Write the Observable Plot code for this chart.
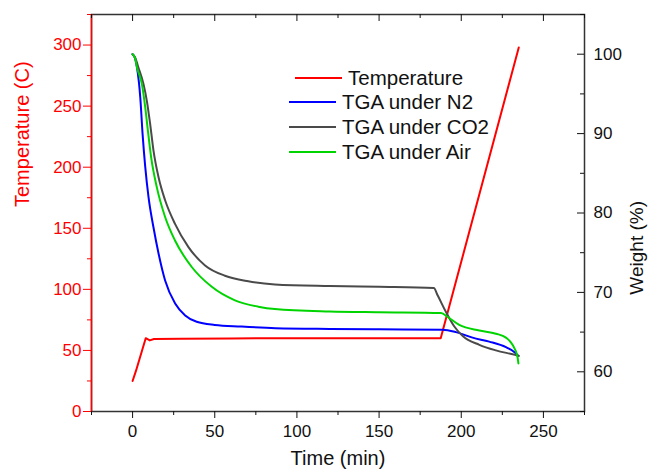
<!DOCTYPE html>
<html>
<head>
<meta charset="utf-8">
<script src="https://cdn.jsdelivr.net/npm/d3@7"></script>
<script src="https://cdn.jsdelivr.net/npm/@observablehq/plot@0.6"></script>
<style>
  html, body { margin: 0; padding: 0; background: #fff; }
  #wrap { position: relative; width: 648px; height: 471px; font-family: "Liberation Sans", Arial, sans-serif; }
  .legtext { position: absolute; font-size: 20.5px; color: #111; white-space: nowrap; line-height: 1; }
  .legline { position: absolute; height: 0; border-top-width: 2.5px; border-top-style: solid; }
</style>
</head>
<body>
<div id="wrap"></div>
<script>
// ---- data ----
const X_DOMAIN = [-25, 275];
const T_DOMAIN = [0, 325];
const W_DOMAIN = [55, 105];

const xTicks = [0, 50, 100, 150, 200, 250];
const xMinor = [-25, 25, 75, 125, 175, 225, 275];
const tTicks = [0, 50, 100, 150, 200, 250, 300];
const tMinor = [25, 75, 125, 175, 225, 275, 325];
const wTicks = [60, 70, 80, 90, 100];
const wMinor = [55, 65, 75, 85, 95, 105];

const tempTime = [0, 2, 4, 6, 8, 10.5, 13, 30, 60, 100, 150, 187.5, 235];
const tempVal  = [25, 33, 42, 51, 60, 58.2, 59.3, 59.6, 59.8, 60, 60, 60, 298];

const n2Time = [0, 1.5, 2.7, 4.7, 6.1, 7.7, 9.7, 12.7, 15.8, 19.8, 25.9, 32, 39, 50, 66, 87, 120, 150, 188.7, 196.8, 206.9, 217, 227.2, 232.2, 234.8];
const n2W    = [100, 99.5, 98.3, 94.5, 89.9, 85.8, 82.0, 78.2, 74.9, 71.5, 68.6, 67.1, 66.3, 65.9, 65.7, 65.5, 65.4, 65.35, 65.3, 65.0, 64.3, 63.8, 63.1, 62.5, 62.0];

const co2Time = [0, 1.5, 3.6, 6.7, 8.7, 10.7, 12.7, 15.8, 19.8, 25.9, 34, 44.1, 56.2, 70.4, 86.6, 120, 150, 183.3, 185.7, 190.8, 195.8, 200.9, 211, 221.1, 233.3, 235];
const co2W    = [100, 99.6, 98.3, 96.2, 94.1, 91.2, 87.9, 84.5, 81.6, 78.6, 75.7, 73.4, 72.1, 71.4, 71.0, 70.8, 70.7, 70.55, 69.6, 67.5, 65.7, 64.5, 63.4, 62.7, 62.1, 62.0];

const airTime = [0, 1.5, 2.7, 5.7, 7.7, 9.3, 11.3, 14.8, 19.8, 25.9, 36, 48.2, 62.3, 76.5, 86.6, 120, 150, 187.7, 191.8, 198.8, 211, 221.1, 227.2, 231.2, 234.2, 234.8];
const airW    = [100, 99.5, 98.3, 96.2, 93.3, 90.4, 87.0, 83.2, 79.5, 76.5, 73.2, 70.7, 69.0, 68.2, 67.9, 67.6, 67.5, 67.4, 66.9, 65.9, 65.2, 64.8, 64.3, 63.4, 61.9, 61.05];

const seriesNames = ["Temperature", "TGA under N2", "TGA under CO2", "TGA under Air"];
const seriesColors = ["#ff0000", "#0000ff", "#4a4a4a", "#00d400"];

// ---- build ----
// weight (right axis) mapped onto the temperature (left) scale
const wToY = w => (w - W_DOMAIN[0]) / (W_DOMAIN[1] - W_DOMAIN[0]) * (T_DOMAIN[1] - T_DOMAIN[0]) + T_DOMAIN[0];
const yToW = y => (y - T_DOMAIN[0]) / (T_DOMAIN[1] - T_DOMAIN[0]) * (W_DOMAIN[1] - W_DOMAIN[0]) + W_DOMAIN[0];

const temp = tempTime.map((t, i) => ({t, y: tempVal[i]}));
const n2 = n2Time.map((t, i) => ({t, y: wToY(n2W[i])}));
const co2 = co2Time.map((t, i) => ({t, y: wToY(co2W[i])}));
const air = airTime.map((t, i) => ({t, y: wToY(airW[i])}));

const frameColor = "#333";
const curve = "monotone-x";

const chart = Plot.plot({
  width: 648,
  height: 471,
  marginTop: 14,
  marginBottom: 60,
  marginLeft: 91,
  marginRight: 64,
  x: {domain: X_DOMAIN},
  y: {domain: T_DOMAIN},
  style: {fontFamily: "'Liberation Sans', Arial, sans-serif", background: "white", overflow: "visible"},
  marks: [
    Plot.frame({stroke: frameColor, strokeWidth: 1.5}),
    Plot.ruleX([X_DOMAIN[0]], {stroke: "red", strokeWidth: 1.5}),
    // left axis (temperature)
    Plot.axisY({anchor: "left", ticks: tTicks, tickSize: 8, tickPadding: 2, color: "red", fontSize: 17, label: null}),
    Plot.axisY({anchor: "left", ticks: tMinor, tickSize: 4, text: null, color: "red", label: null}),
    // bottom axis
    Plot.axisX({anchor: "bottom", ticks: xTicks, tickSize: 7, tickPadding: 6, color: "#111", fontSize: 17, label: null}),
    Plot.axisX({anchor: "bottom", ticks: xMinor, tickSize: 4, text: null, color: "#111", label: null}),
    // top mirror ticks (inward)
    Plot.axisX({anchor: "bottom", frameAnchor: "top", ticks: xTicks, tickSize: 7, text: null, color: "#111", label: null}),
    Plot.axisX({anchor: "bottom", frameAnchor: "top", ticks: xMinor, tickSize: 4, text: null, color: "#111", label: null}),
    // right axis (weight) labels
    Plot.axisY({anchor: "right", ticks: wTicks.map(wToY), tickFormat: d => String(Math.round(yToW(d))), tickSize: 0, tickPadding: 9, color: "#111", fontSize: 17, label: null}),
    // right axis inward ticks
    Plot.axisY({anchor: "left", frameAnchor: "right", ticks: wTicks.map(wToY), tickSize: 7, text: null, color: "#111", label: null}),
    Plot.axisY({anchor: "left", frameAnchor: "right", ticks: wMinor.map(wToY), tickSize: 4, text: null, color: "#111", label: null}),
    // data
    Plot.line(temp, {x: "t", y: "y", stroke: seriesColors[0], strokeWidth: 2, curve: "linear"}),
    Plot.line(n2, {x: "t", y: "y", stroke: seriesColors[1], strokeWidth: 2, curve}),
    Plot.line(co2, {x: "t", y: "y", stroke: seriesColors[2], strokeWidth: 2, curve}),
    Plot.line(air, {x: "t", y: "y", stroke: seriesColors[3], strokeWidth: 2, curve}),
    // axis titles
    Plot.text(["Temperature (C)"], {text: d => d, frameAnchor: "left", dx: -69, dy: -6, rotate: -90, fill: "red", fontSize: 20}),
    Plot.text(["Weight (%)"], {text: d => d, frameAnchor: "right", dx: 52, dy: -12, rotate: -90, fill: "#111", fontSize: 19}),
    Plot.text(["Time (min)"], {text: d => d, frameAnchor: "bottom", dy: 53, fill: "#111", fontSize: 20})
  ]
});

const wrap = document.getElementById("wrap");
wrap.appendChild(chart);

// legend overlay
const legRows = [
  {y: 78, lineX: 295, lineW: 47, textX: 348},
  {y: 102.5, lineX: 289, lineW: 47, textX: 342},
  {y: 127, lineX: 289, lineW: 47, textX: 342},
  {y: 152, lineX: 289, lineW: 47, textX: 342}
];
seriesNames.forEach((name, i) => {
  const r = legRows[i];
  const line = document.createElement("div");
  line.className = "legline";
  line.style.left = r.lineX + "px";
  line.style.top = (r.y - 1.25) + "px";
  line.style.width = r.lineW + "px";
  line.style.borderTopColor = seriesColors[i];
  wrap.appendChild(line);
  const tx = document.createElement("div");
  tx.className = "legtext";
  tx.textContent = name;
  tx.style.left = r.textX + "px";
  tx.style.top = (r.y - 10.5) + "px";
  wrap.appendChild(tx);
});
</script>
</body>
</html>
